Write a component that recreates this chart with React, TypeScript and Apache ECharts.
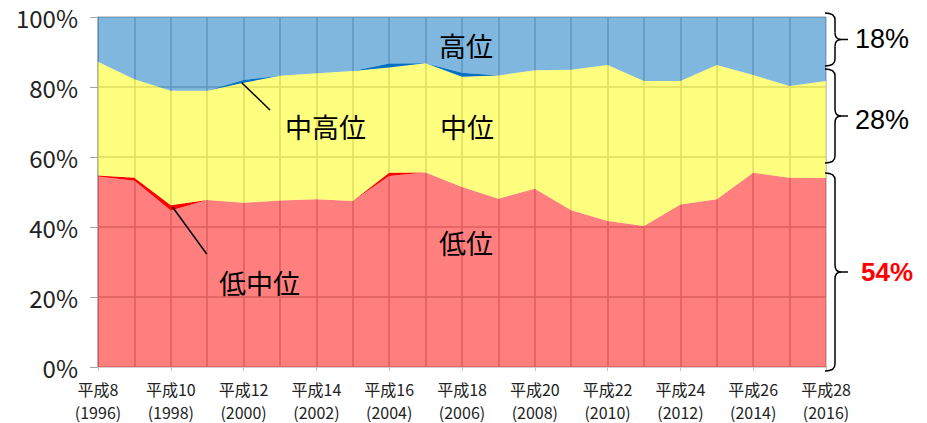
import React, { useEffect, useRef } from "react";
import * as echarts from "echarts";

const heiseiYears = ["8", "9", "10", "11", "12", "13", "14", "15", "16", "17", "18", "19", "20", "21", "22", "23", "24", "25", "26", "27", "28"];
const westernYears = ["1996", "1997", "1998", "1999", "2000", "2001", "2002", "2003", "2004", "2005", "2006", "2007", "2008", "2009", "2010", "2011", "2012", "2013", "2014", "2015", "2016"];

const lowData = [54.4, 53.2, 44.7, 47.7, 46.9, 47.6, 47.9, 47.4, 54.6, 55.6, 51.4, 48.1, 50.9, 44.8, 41.7, 40.3, 46.4, 47.9, 55.5, 54.1, 54.0];
const lowMidData = [0.3, 0.9, 1.5, 0, 0, 0, 0, 0, 0.9, 0, 0, 0, 0, 0, 0, 0, 0, 0, 0, 0, 0];
const midData = [32.5, 28.1, 32.7, 31.2, 34.3, 35.6, 36.0, 37.2, 30.1, 31.2, 31.5, 35.2, 33.9, 40.1, 44.6, 41.4, 35.3, 38.4, 27.9, 26.2, 27.7];
const midHighData = [0, 0, 0, 0, 0.8, 0, 0, 0, 1.1, 0, 1.2, 0, 0, 0, 0, 0, 0, 0, 0, 0, 0];
const highData = [12.8, 17.8, 21.1, 21.1, 18.0, 16.8, 16.1, 15.4, 13.3, 13.2, 15.9, 16.7, 15.2, 15.1, 13.7, 18.3, 18.3, 13.7, 16.6, 19.7, 18.3];

const yTicks = [0, 20, 40, 60, 80, 100];
const shareLabels = ["18%", "28%", "54%"];

const CJK = '"Noto Sans CJK JP", "Noto Sans", sans-serif';
const LAT = '"Liberation Sans", Arial, sans-serif';

function brace(x0: number, y1: number, y2: number) {
  const xm = x0 + 10;
  const xt = x0 + 16;
  const ym = (y1 + y2) / 2;
  const r = 7;
  const st = { stroke: "#000", lineWidth: 1.5, fill: null as any };
  return {
    type: "group",
    z: 100,
    children: [
      { type: "bezierCurve", z: 100, shape: { x1: x0, y1: y1, x2: xm, y2: y1 + r, cpx1: xm, cpy1: y1 }, style: st },
      { type: "line", z: 100, shape: { x1: xm, y1: y1 + r, x2: xm, y2: ym - r }, style: st },
      { type: "bezierCurve", z: 100, shape: { x1: xm, y1: ym - r, x2: xt, y2: ym, cpx1: xm, cpy1: ym }, style: st },
      { type: "bezierCurve", z: 100, shape: { x1: xt, y1: ym, x2: xm, y2: ym + r, cpx1: xm, cpy1: ym }, style: st },
      { type: "line", z: 100, shape: { x1: xm, y1: ym + r, x2: xm, y2: y2 - r }, style: st },
      { type: "bezierCurve", z: 100, shape: { x1: xm, y1: y2 - r, x2: x0, y2: y2, cpx1: xm, cpy1: y2 }, style: st },
      { type: "line", z: 100, shape: { x1: xt, y1: ym, x2: xt + 7, y2: ym }, style: st },
    ],
  };
}

function label(text: string, x: number, y: number) {
  return {
    type: "text",
    z: 100,
    x,
    y,
    style: { text, fontSize: 27, fontFamily: CJK, fill: "#000", align: "left", verticalAlign: "middle" },
  };
}

export default function App() {
  const ref = useRef<HTMLDivElement>(null);
  useEffect(() => {
    document.body.style.margin = "0";
    const chart = echarts.init(ref.current!, null, { renderer: "svg" });
    const area = (name: string, data: number[], color: string, opacity: number) => ({
      name,
      type: "line",
      stack: "total",
      data,
      symbol: "none",
      showSymbol: false,
      lineStyle: { width: 0, opacity: 0 },
      areaStyle: { color, opacity },
      emphasis: { disabled: true },
    });
    chart.setOption({
      animation: false,
      textStyle: { fontFamily: CJK },
      grid: { left: 98, right: 101, top: 17, bottom: 56, containLabel: false },
      xAxis: {
        type: "category",
        boundaryGap: false,
        data: heiseiYears.map((h, i) => `平成${h}\n(${westernYears[i]})`),
        axisLine: { show: true, lineStyle: { color: "#D0D0D0", width: 1 } },
        axisTick: { show: true, interval: 1, length: 4, lineStyle: { color: "#C0C0C0" } },
        axisLabel: {
          interval: 1,
          showMinLabel: true,
          showMaxLabel: true,
          hideOverlap: false,
          fontSize: 16,
          lineHeight: 23,
          color: "#222",
          margin: 10,
          fontFamily: CJK,
        },
        splitLine: { show: true, interval: 0, lineStyle: { color: "#BDBDBD", width: 1.5 } },
      },
      yAxis: {
        type: "value",
        min: yTicks[0],
        max: yTicks[yTicks.length - 1],
        interval: 20,
        axisLine: { show: true, lineStyle: { color: "#A6A6A6", width: 1.5 } },
        axisTick: { show: true, length: 8, inside: false, lineStyle: { color: "#A6A6A6" } },
        axisLabel: { formatter: "{value}%", fontSize: 24, color: "#222", margin: 20, fontFamily: CJK },
        splitLine: { show: true, lineStyle: { color: "#BDBDBD", width: 1.5 } },
      },
      series: [
        area("低位", lowData, "#FF0000", 0.5),
        area("低中位", lowMidData, "#FF0000", 1),
        area("中位", midData, "#FFFF00", 0.5),
        area("中高位", midHighData, "#0070C0", 1),
        area("高位", highData, "#0070C0", 0.5),
      ],
      graphic: [
        label("高位", 439, 45),
        label("中位", 440, 126),
        label("中高位", 285, 126),
        label("低位", 439, 242),
        label("低中位", 219, 282),
        { type: "line", z: 100, shape: { x1: 241.7, y1: 82.7, x2: 270, y2: 110 }, style: { stroke: "#000", lineWidth: 1.5 } },
        { type: "line", z: 100, shape: { x1: 172.7, y1: 207.3, x2: 206.7, y2: 254 }, style: { stroke: "#000", lineWidth: 1.5 } },
        brace(825, 13, 66),
        brace(825, 69, 163),
        brace(825, 173, 371),
        {
          type: "text", z: 100, x: 855, y: 39,
          style: { text: shareLabels[0], fontSize: 27, fontFamily: LAT, fill: "#000", align: "left", verticalAlign: "middle" },
        },
        {
          type: "text", z: 100, x: 855, y: 120,
          style: { text: shareLabels[1], fontSize: 27, fontFamily: LAT, fill: "#000", align: "left", verticalAlign: "middle" },
        },
        {
          type: "text", z: 100, x: 861, y: 272,
          style: { text: shareLabels[2], fontSize: 26, fontWeight: "bold", fontFamily: LAT, fill: "#FF0000", align: "left", verticalAlign: "middle" },
        },
      ],
    });
    return () => chart.dispose();
  }, []);
  return <div ref={ref} style={{ width: 927, height: 423 }} />;
}
